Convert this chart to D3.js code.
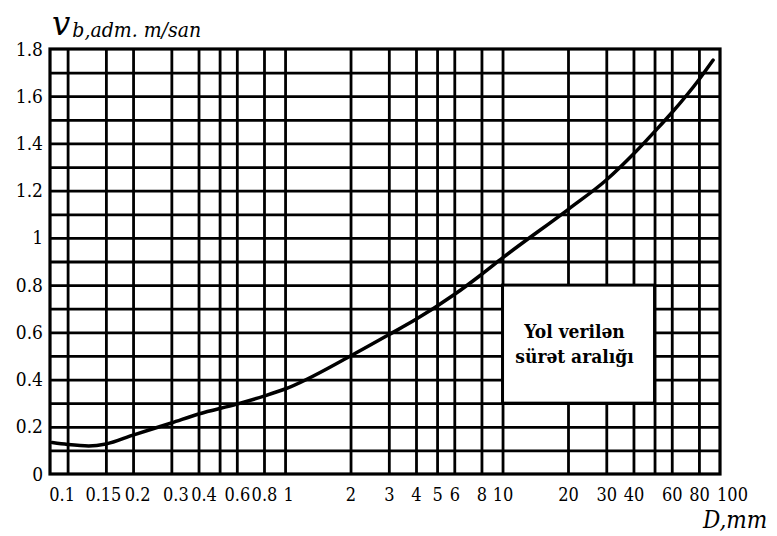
<!DOCTYPE html>
<html>
<head>
<meta charset="utf-8">
<script src="https://cdn.jsdelivr.net/npm/d3@7"></script>
<style>
  html, body { margin: 0; padding: 0; background: #fff; }
  svg { display: block; }
  svg text { font-family: "DejaVu Serif Condensed", "DejaVu Serif", "Liberation Serif", serif; font-stretch: condensed; }
</style>
</head>
<body>
<svg id="chart" width="777" height="536"></svg>
<script>
// Permissible velocity against particle diameter D (mm)
const diameters = [0.085, 0.1, 0.125, 0.15, 0.2, 0.3, 0.4, 0.6, 0.8, 1, 2, 3, 4, 6, 8, 10, 20, 30, 40, 50, 60, 80, 93];
const velocities = [0.133, 0.125, 0.119, 0.127, 0.165, 0.216, 0.254, 0.296, 0.33, 0.36, 0.50, 0.59, 0.655, 0.76, 0.845, 0.915, 1.12, 1.245, 1.355, 1.45, 1.53, 1.67, 1.753];

// Logarithmic x grid and its labels
const xGridValues = [0.1, 0.15, 0.2, 0.3, 0.4, 0.5, 0.6, 0.8, 1, 2, 3, 4, 5, 6, 8, 10, 20, 30, 40, 50, 60, 80];
const xLabelValues = [0.1, 0.15, 0.2, 0.3, 0.4, 0.6, 0.8, 1, 2, 3, 4, 5, 6, 8, 10, 20, 30, 40, 60, 80, 100];
const xDomain = [0.083, 100];

// Linear y grid and its labels
const yGridValues = [0.1, 0.2, 0.3, 0.4, 0.5, 0.6, 0.7, 0.8, 0.9, 1.0, 1.1, 1.2, 1.3, 1.4, 1.5, 1.6, 1.7];
const yLabelValues = [0, 0.2, 0.4, 0.6, 0.8, 1, 1.2, 1.4, 1.6, 1.8];
const yDomain = [0, 1.8];

// Permitted range box (D range, v range) and its caption
const rangeD = [10, 50];
const rangeV = [0.3, 0.8];
const rangeCaption = ["Yol verilən", "sürət aralığı"];

const margin = { left: 50, right: 57, top: 49, bottom: 62 };
const W = 777, H = 536;
const svg = d3.select("#chart");
svg.append("rect").attr("width", W).attr("height", H).attr("fill", "#fff");

const x = d3.scaleLog().domain(xDomain).range([margin.left, W - margin.right]);
const y = d3.scaleLinear().domain(yDomain).range([H - margin.bottom, margin.top]);
const fmt = d => String(d);

// small horizontal nudges so the crowded labels at the low end do not collide
const labelNudge = new Map([[0.1, -6], [0.15, -3], [0.2, 4], [0.3, 4], [0.4, 5], [1, 3], [100, 12]]);

// vertical grid lines
svg.append("g")
  .attr("transform", `translate(0,${y(0)})`)
  .call(d3.axisBottom(x).tickValues(xGridValues).tickSize(-(y(0) - y(1.8))).tickFormat(""))
  .call(g => g.select(".domain").remove())
  .call(g => g.selectAll(".tick line").attr("stroke", "#000").attr("stroke-width", 2.8));

// horizontal grid lines
svg.append("g")
  .attr("transform", `translate(${x(xDomain[0])},0)`)
  .call(d3.axisLeft(y).tickValues(yGridValues).tickSize(-(x(xDomain[1]) - x(xDomain[0]))).tickFormat(""))
  .call(g => g.select(".domain").remove())
  .call(g => g.selectAll(".tick line").attr("stroke", "#000").attr("stroke-width", 2.8));

// plot frame
svg.append("rect")
  .attr("x", x(xDomain[0])).attr("y", y(yDomain[1]))
  .attr("width", x(xDomain[1]) - x(xDomain[0]))
  .attr("height", y(yDomain[0]) - y(yDomain[1]))
  .attr("fill", "none").attr("stroke", "#000").attr("stroke-width", 3.2);

// x tick labels
svg.append("g")
  .attr("transform", `translate(0,${y(0)})`)
  .call(d3.axisBottom(x).tickValues(xLabelValues).tickSize(0).tickPadding(14).tickFormat(fmt))
  .call(g => g.select(".domain").remove())
  .call(g => g.selectAll("text")
    .attr("font-size", 18).attr("fill", "#000")
    .attr("dx", d => labelNudge.get(d) || 0));

// y tick labels
svg.append("g")
  .attr("transform", `translate(${x(xDomain[0])},0)`)
  .call(d3.axisLeft(y).tickValues(yLabelValues).tickSize(0).tickPadding(7).tickFormat(fmt))
  .call(g => g.select(".domain").remove())
  .call(g => g.selectAll("text").attr("font-size", 19).attr("fill", "#000"));

// permitted range box
const bx0 = x(rangeD[0]), bx1 = x(rangeD[1]);
const by0 = y(rangeV[1]), by1 = y(rangeV[0]);
svg.append("rect")
  .attr("x", bx0).attr("y", by0)
  .attr("width", bx1 - bx0).attr("height", by1 - by0)
  .attr("fill", "#fff").attr("stroke", "#000").attr("stroke-width", 3);

svg.append("g")
  .selectAll("text")
  .data(rangeCaption)
  .join("text")
  .attr("x", (bx0 + bx1) / 2 - 4)
  .attr("y", (d, i) => (by0 + by1) / 2 - 6 + i * 25)
  .attr("text-anchor", "middle")
  .attr("fill", "#000")
  .attr("font-size", 19)
  .attr("font-weight", "bold")
  .text(d => d);

// velocity curve
const line = d3.line()
  .x((d, i) => x(diameters[i]))
  .y(d => y(d))
  .curve(d3.curveMonotoneX);
svg.append("path")
  .datum(velocities)
  .attr("d", line)
  .attr("fill", "none")
  .attr("stroke", "#000")
  .attr("stroke-width", 3.5)
  .attr("stroke-linecap", "round");

// axis titles
const yTitle = svg.append("text").attr("x", 52).attr("y", 35)
  .attr("fill", "#000")
  .attr("font-style", "italic");
yTitle.append("tspan").attr("font-size", 36).text("v");
yTitle.append("tspan").attr("font-size", 21).attr("dx", 2).attr("dy", 2)
  .text("b,adm. m/san");

svg.append("text")
  .attr("x", 703).attr("y", 528)
  .attr("fill", "#000")
  .attr("font-style", "italic").attr("font-size", 24)
  .text("D,mm");
</script>
</body>
</html>
